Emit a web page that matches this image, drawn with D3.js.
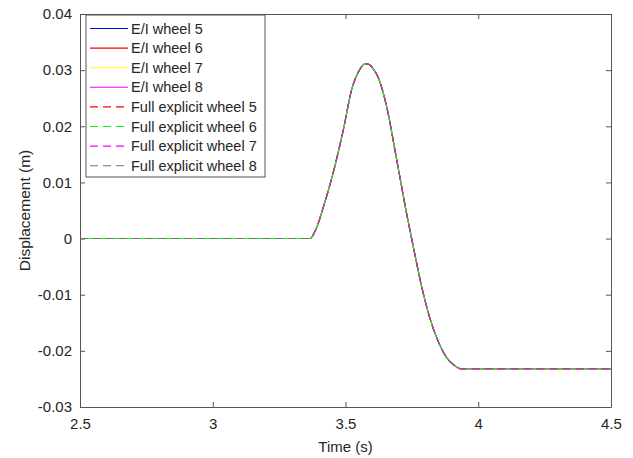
<!DOCTYPE html>
<html>
<head>
<meta charset="utf-8">
<script src="https://cdn.jsdelivr.net/npm/d3@7"></script>
<style>
  body { margin: 0; background: #fff; }
  text { font-family: "Liberation Sans", Arial, sans-serif; fill: #262626; }
</style>
</head>
<body>
<svg id="chart" width="633" height="458"></svg>
<script>
// time samples (s)
const timeValues = [2.5, 3.0, 3.366, 3.39, 3.416, 3.454, 3.492, 3.523, 3.555, 3.572, 3.585, 3.6, 3.624, 3.655, 3.693, 3.73, 3.762, 3.788, 3.818, 3.85, 3.881, 3.91, 3.935, 4.0, 4.5];
// displacement (m) - all wheels overlap in the figure
const dispValues = [0, 0, 0, 0.0018, 0.0055, 0.0118, 0.0194, 0.0265, 0.0302, 0.0311, 0.0311, 0.0305, 0.0286, 0.0235, 0.014, 0.0045, -0.003, -0.0088, -0.0142, -0.0184, -0.0212, -0.0226, -0.0232, -0.0232, -0.0232];

const seriesNames = ["E/I wheel 5", "E/I wheel 6", "E/I wheel 7", "E/I wheel 8",
  "Full explicit wheel 5", "Full explicit wheel 6", "Full explicit wheel 7", "Full explicit wheel 8"];
const seriesColors = ["#0000ff", "#ff0000", "#ffff00", "#ff00ff", "#ff0000", "#00ff00", "#ff00ff", "#707070"];
const seriesDashed = [false, false, false, false, true, true, true, true];
const seriesData = [dispValues, dispValues, dispValues, dispValues, dispValues, dispValues, dispValues, dispValues];

const xTicks = [2.5, 3, 3.5, 4, 4.5];
const yTicks = [-0.03, -0.02, -0.01, 0, 0.01, 0.02, 0.03, 0.04];

const svg = d3.select("#chart");
const margin = { top: 14, right: 22, bottom: 51, left: 80 };
const width = 633 - margin.left - margin.right;
const height = 458 - margin.top - margin.bottom;

const x = d3.scaleLinear().domain([2.5, 4.5]).range([0, width]);
const y = d3.scaleLinear().domain([-0.03, 0.04]).range([height, 0]);

const g = svg.append("g").attr("transform", `translate(${margin.left},${margin.top})`);

// plain hyphen minus like MATLAB
const fmtY = (d) => (Math.abs(d) < 1e-9 ? "0" : d.toFixed(2));
const fmtX = (d) => String(d);

// axes with inward ticks
const axisColor = "#555";
const axBottom = g.append("g").attr("transform", `translate(0,${height})`)
  .call(d3.axisBottom(x).tickValues(xTicks).tickFormat(fmtX).tickSizeInner(-5).tickSizeOuter(0).tickPadding(11));
const axTop = g.append("g")
  .call(d3.axisTop(x).tickValues(xTicks).tickFormat("").tickSizeInner(-5).tickSizeOuter(0));
const axLeft = g.append("g")
  .call(d3.axisLeft(y).tickValues(yTicks).tickFormat(fmtY).tickSizeInner(-5).tickSizeOuter(0).tickPadding(8));
const axRight = g.append("g").attr("transform", `translate(${width},0)`)
  .call(d3.axisRight(y).tickValues(yTicks).tickFormat("").tickSizeInner(-5).tickSizeOuter(0));

[axBottom, axTop, axLeft, axRight].forEach((a) => {
  a.select(".domain").attr("stroke", axisColor).attr("stroke-width", 1);
  a.selectAll(".tick line").attr("stroke", axisColor);
  a.selectAll("text").attr("font-size", 15).attr("fill", "#262626")
    .style("font-family", '"Liberation Sans", Arial, sans-serif');
});

// lines
const line = d3.line().x((d, i) => x(timeValues[i])).y((d) => y(d)).curve(d3.curveMonotoneX);
seriesData.forEach((vals, i) => {
  g.append("path")
    .datum(vals)
    .attr("fill", "none")
    .attr("stroke", seriesColors[i])
    .attr("stroke-width", 1.1)
    .attr("stroke-dasharray", seriesDashed[i] ? "8,5" : null)
    .attr("stroke-dashoffset", i === 5 ? 7 : 0)
    .attr("stroke-linejoin", "round")
    .attr("d", line);
});

// axis labels
svg.append("text")
  .attr("x", margin.left + width / 2).attr("y", 452)
  .attr("text-anchor", "middle").attr("font-size", 15)
  .text("Time (s)");
svg.append("text")
  .attr("transform", `translate(30,${margin.top + height / 2}) rotate(-90)`)
  .attr("text-anchor", "middle").attr("font-size", 15.5)
  .text("Displacement (m)");

// legend
const legend = svg.append("g").attr("transform", "translate(86,15)");
legend.append("rect").attr("x", 0).attr("y", 0).attr("width", 179).attr("height", 162)
  .attr("fill", "#fff").attr("stroke", "#555").attr("stroke-width", 1);
seriesNames.forEach((name, i) => {
  const yy = 13.5 + i * 19.6;
  legend.append("line")
    .attr("x1", 4).attr("x2", 42).attr("y1", yy).attr("y2", yy)
    .attr("stroke", seriesColors[i]).attr("stroke-width", 1.1)
    .attr("stroke-dasharray", seriesDashed[i] ? "8,5" : null);
  legend.append("text")
    .attr("x", 45).attr("y", yy + 5).attr("font-size", 14.5)
    .text(name);
});
</script>
</body>
</html>
